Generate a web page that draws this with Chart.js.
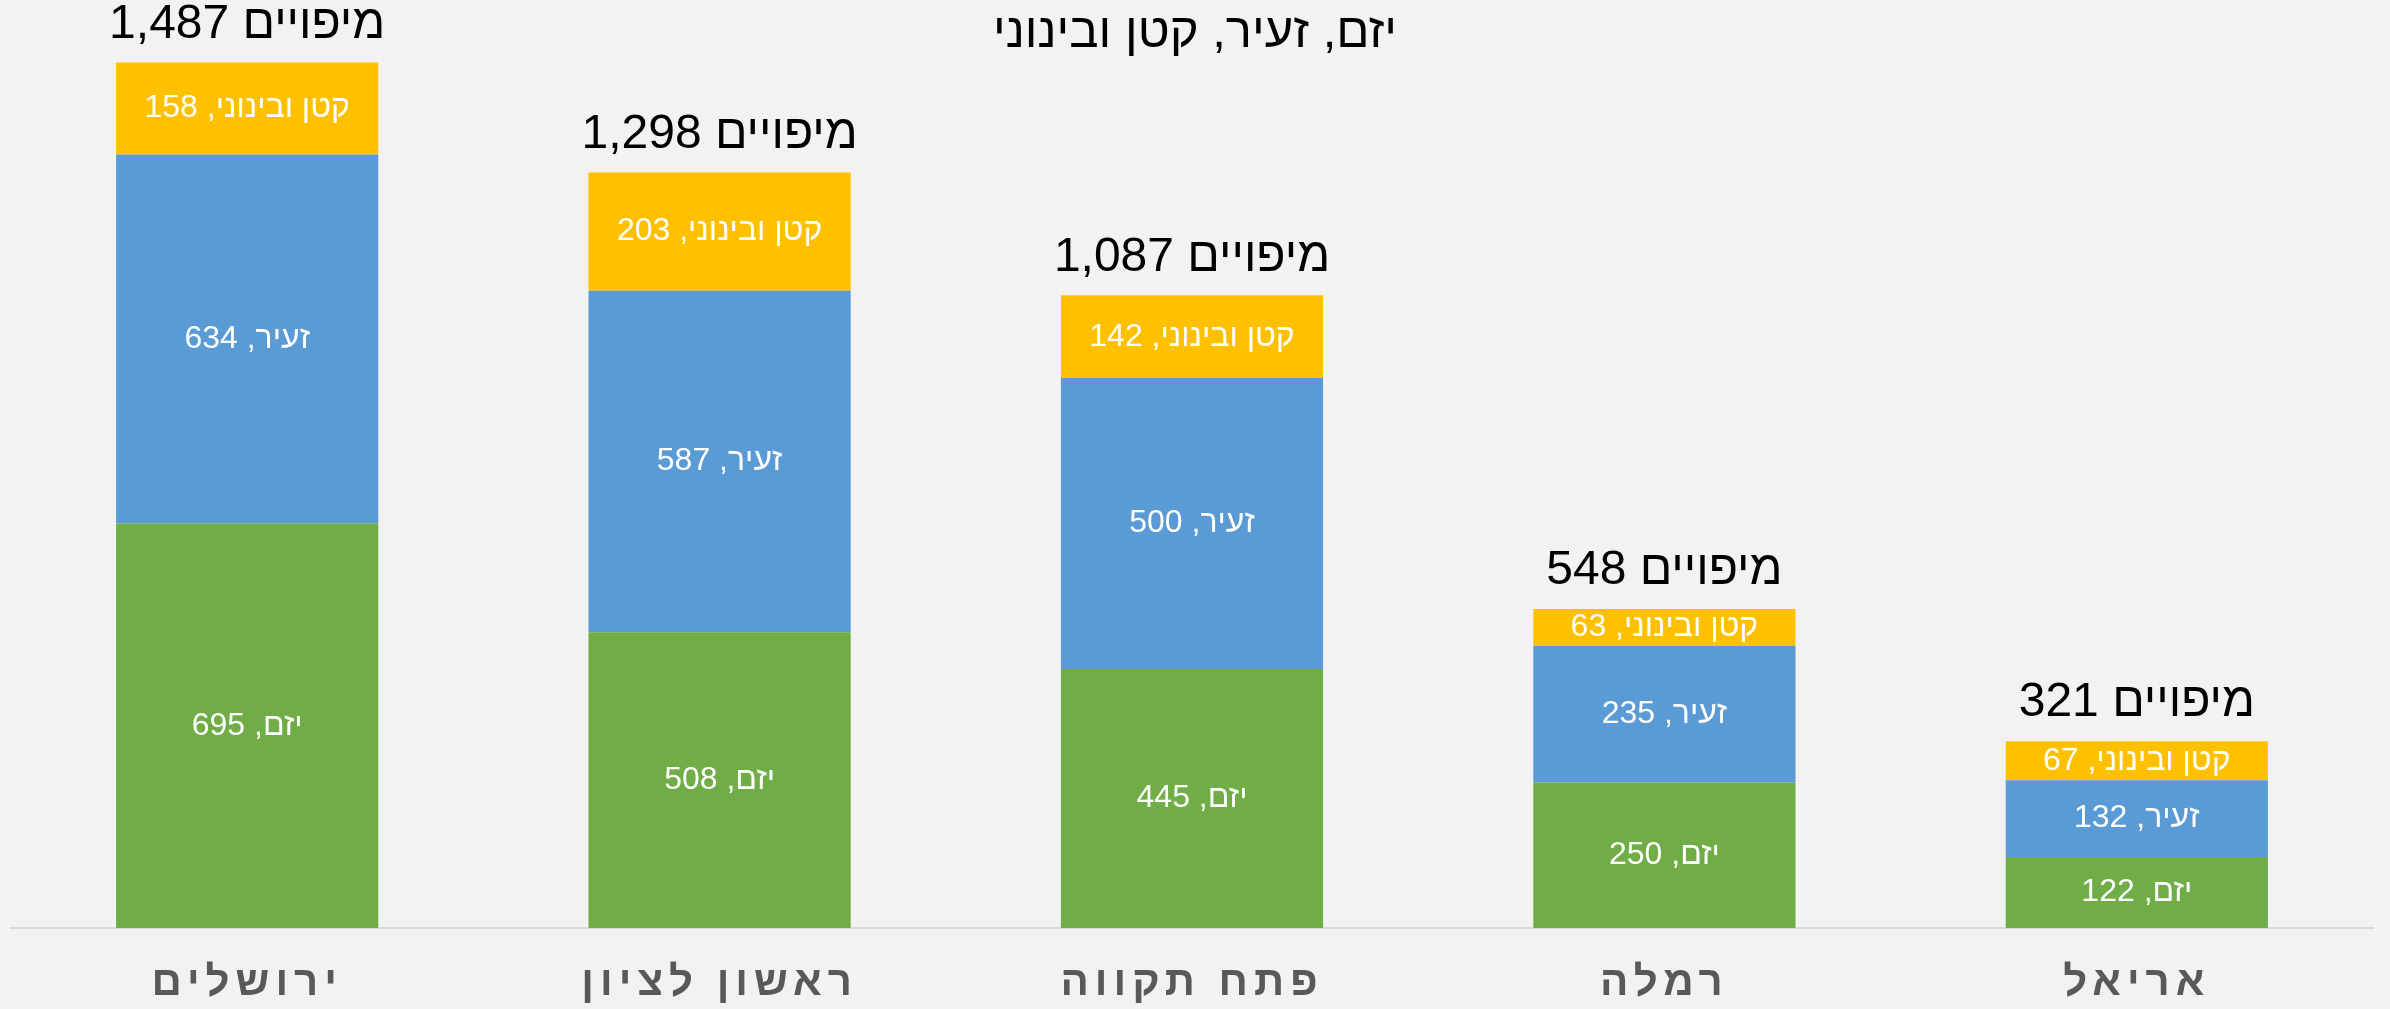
<!DOCTYPE html>
<html lang="he">
<head>
<meta charset="utf-8">
<script src="https://cdn.jsdelivr.net/npm/chart.js@4.4.1/dist/chart.umd.min.js"></script>
<style>
  html, body { margin: 0; padding: 0; background: #f2f2f2; }
  #wrap { width: 2390px; height: 1009px; }
</style>
</head>
<body>
<div id="wrap"><canvas id="barChart"></canvas></div>
<script>
// categories, left to right as in the picture
const cities = ['ירושלים', 'ראשון לציון', 'פתח תקווה', 'רמלה', 'אריאל'];

const seriesNames = ['יזם', 'זעיר', 'קטן ובינוני'];
const yazam = [695, 508, 445, 250, 122];
const zair = [634, 587, 500, 235, 132];
const katan = [158, 203, 142, 63, 67];

const totals = [1487, 1298, 1087, 548, 321];
const totalSuffix = 'מיפויים';
const chartTitle = 'יזם, זעיר, קטן ובינוני';

const colors = ['#70ad47', '#5b9bd5', '#ffc000'];

const HEB = '"Liberation Sans", Arial, sans-serif';

// labels inside the segments, totals above the bars, and the title
const labelsPlugin = {
  id: 'labels',
  beforeDraw(chart) {
    // spaced out category names (Excel style)
    chart.ctx.letterSpacing = '6px';
  },
  beforeDatasetsDraw(chart) {
    chart.ctx.letterSpacing = '0px';
  },
  afterDatasetsDraw(chart) {
    const ctx = chart.ctx;
    ctx.save();
    ctx.textAlign = 'center';
    ctx.textBaseline = 'middle';

    ctx.fillStyle = '#ffffff';
    ctx.font = '32px ' + HEB;
    ctx.direction = 'rtl';
    chart.data.datasets.forEach((ds, di) => {
      chart.getDatasetMeta(di).data.forEach((el, i) => {
        const y = (el.y + el.base) / 2;
        ctx.fillText(ds.label + ', ' + ds.data[i], el.x, y);
      });
    });

    // totals
    ctx.direction = 'ltr';
    ctx.fillStyle = '#000000';
    ctx.font = '48px ' + HEB;
    const top = chart.getDatasetMeta(2).data;
    top.forEach((el, i) => {
      ctx.fillText(totals[i].toLocaleString('en-US') + ' ' + totalSuffix, el.x, el.y - 38);
    });

    // title
    ctx.direction = 'rtl';
    ctx.font = '49px ' + HEB;
    ctx.fillText(chartTitle, chart.width / 2, 33);
    ctx.restore();
  }
};

new Chart(document.getElementById('barChart'), {
  type: 'bar',
  data: {
    labels: cities,
    datasets: [
      { label: seriesNames[0], data: yazam, backgroundColor: colors[0] },
      { label: seriesNames[1], data: zair, backgroundColor: colors[1] },
      { label: seriesNames[2], data: katan, backgroundColor: colors[2] }
    ]
  },
  options: {
    responsive: true,
    maintainAspectRatio: false,
    animation: false,
    layout: { padding: { top: 55, left: 11, right: 17, bottom: 0 } },
    datasets: {
      bar: { categoryPercentage: 1, barPercentage: 0.555 }
    },
    plugins: {
      legend: { display: false },
      title: { display: false },
      tooltip: { enabled: false }
    },
    scales: {
      x: {
        stacked: true,
        grid: { display: false, drawTicks: false },
        border: { display: true, color: '#d9d9d9', width: 2 },
        afterFit(scale) { scale.height = 81; },
        ticks: {
          padding: 30,
          color: '#595959',
          font: { family: HEB, size: 42, weight: 'bold' }
        }
      },
      y: {
        stacked: true,
        display: false,
        min: 0,
        max: 1500
      }
    }
  },
  plugins: [labelsPlugin]
});
</script>
</body>
</html>
